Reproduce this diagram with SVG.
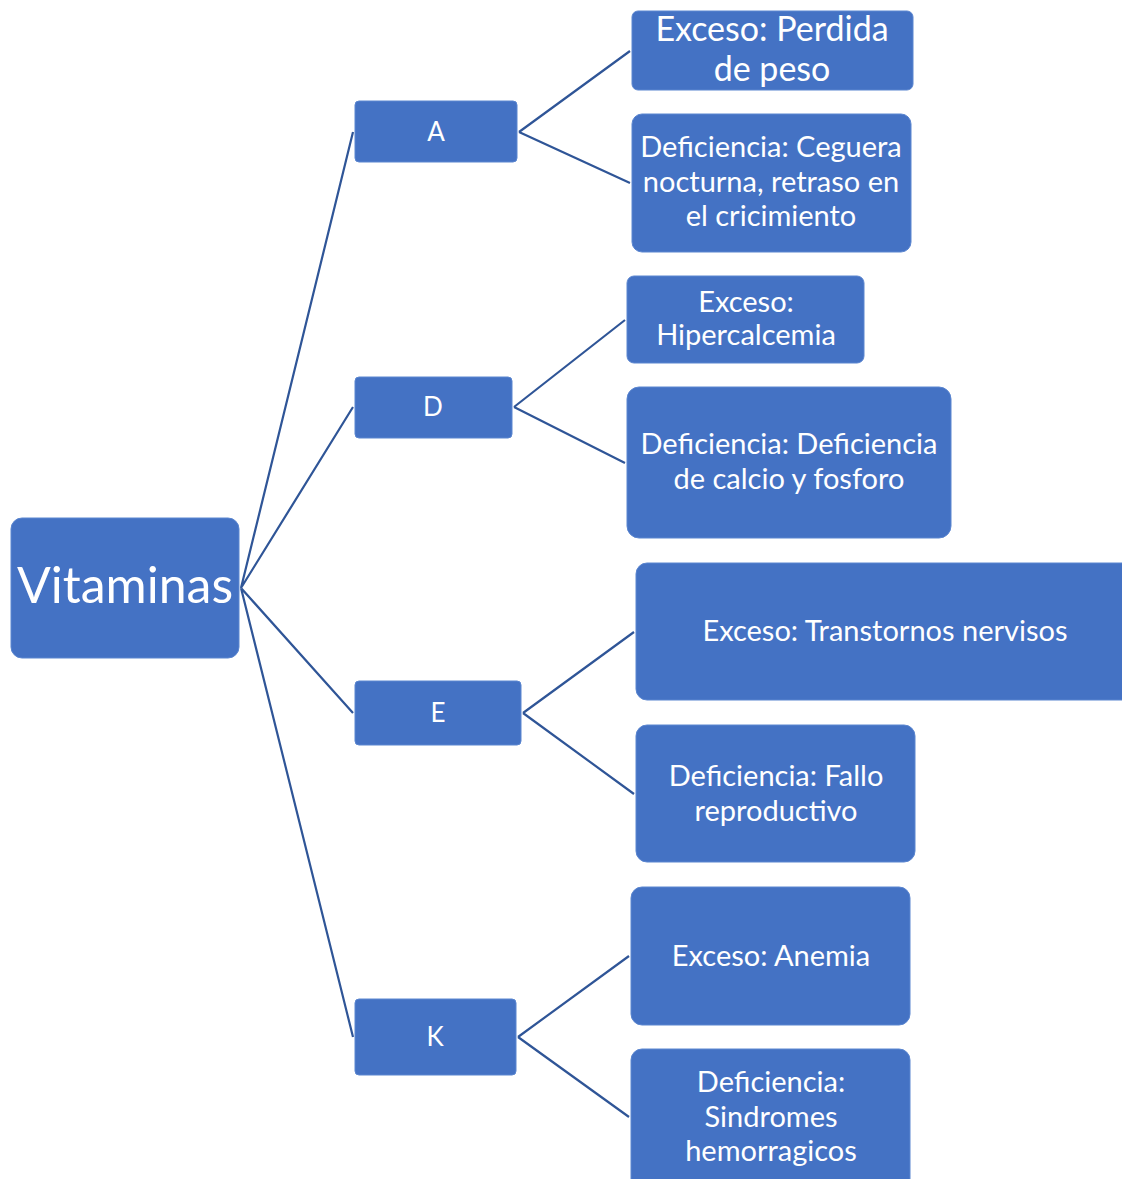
<svg xmlns="http://www.w3.org/2000/svg" width="1122" height="1179" viewBox="0 0 1122 1179">
<style>
.box{fill:#4472C4;stroke:#5B86D0;stroke-width:1}
.t{font-family:Lato,"Open Sans","Liberation Sans",sans-serif;fill:#fff;text-anchor:middle}
.m{font-size:29px}
.c{stroke:#2F5597;stroke-width:2.2;fill:none}
</style>
<rect width="1122" height="1179" fill="#fff"/>
<g id="connectors">
<path class="c" d="M241 588 L353 132 M241 588 L353 407 M241 588 L353 713 M241 588 L353 1037"/>
<path class="c" d="M519 132 L630 51 M519 132 L630 183"/>
<path class="c" d="M514 407 L625 320 M514 407 L625 463"/>
<path class="c" d="M523 713 L634 632 M523 713 L634 794"/>
<path class="c" d="M518 1037 L629 956 M518 1037 L629 1117"/>
</g>
<g id="vitaminas"><rect class="box" x="11" y="518" width="228" height="140" rx="11"/><text class="t" x="125" y="603" font-size="50">Vitaminas</text></g>
<g id="A"><rect class="box" x="355" y="101" width="162" height="61" rx="4"/><text class="t" x="436" y="141" font-size="26">A</text></g>
<g id="D"><rect class="box" x="355" y="377" width="157" height="61" rx="4"/><text class="t" x="433" y="416" font-size="26">D</text></g>
<g id="E"><rect class="box" x="355" y="681" width="166" height="64" rx="4"/><text class="t" x="438" y="722" font-size="26">E</text></g>
<g id="K"><rect class="box" x="355" y="999" width="161" height="76" rx="4"/><text class="t" x="435" y="1046" font-size="26">K</text></g>
<g id="A1"><rect class="box" x="632" y="11" width="281" height="79" rx="6"/><text class="t" x="772" y="41" font-size="34">Exceso: Perdida</text><text class="t" x="772" y="81" font-size="34">de peso</text></g>
<g id="A2"><rect class="box" x="632" y="114" width="279" height="138" rx="10"/><text class="t m" x="771" y="157">Deficiencia: Ceguera</text><text class="t m" x="771" y="192">nocturna, retraso en</text><text class="t m" x="771" y="226">el cricimiento</text></g>
<g id="D1"><rect class="box" x="627" y="276" width="237" height="87" rx="7"/><text class="t m" x="746" y="312">Exceso:</text><text class="t m" x="746" y="345">Hipercalcemia</text></g>
<g id="D2"><rect class="box" x="627" y="387" width="324" height="151" rx="12"/><text class="t m" x="789" y="454">Deficiencia: Deficiencia</text><text class="t m" x="789" y="489">de calcio y fosforo</text></g>
<g id="E1"><rect class="box" x="636" y="563" width="500" height="137" rx="11"/><text class="t m" x="885" y="641">Exceso: Transtornos nervisos</text></g>
<g id="E2"><rect class="box" x="636" y="725" width="279" height="137" rx="11"/><text class="t m" x="776" y="786">Deficiencia: Fallo</text><text class="t m" x="776" y="821">reproductivo</text></g>
<g id="K1"><rect class="box" x="631" y="887" width="279" height="138" rx="11"/><text class="t m" x="771" y="966">Exceso: Anemia</text></g>
<g id="K2"><rect class="box" x="631" y="1049" width="279" height="150" rx="11"/><text class="t m" x="771" y="1092">Deficiencia:</text><text class="t m" x="771" y="1127">Sindromes</text><text class="t m" x="771" y="1161">hemorragicos</text></g>
</svg>
